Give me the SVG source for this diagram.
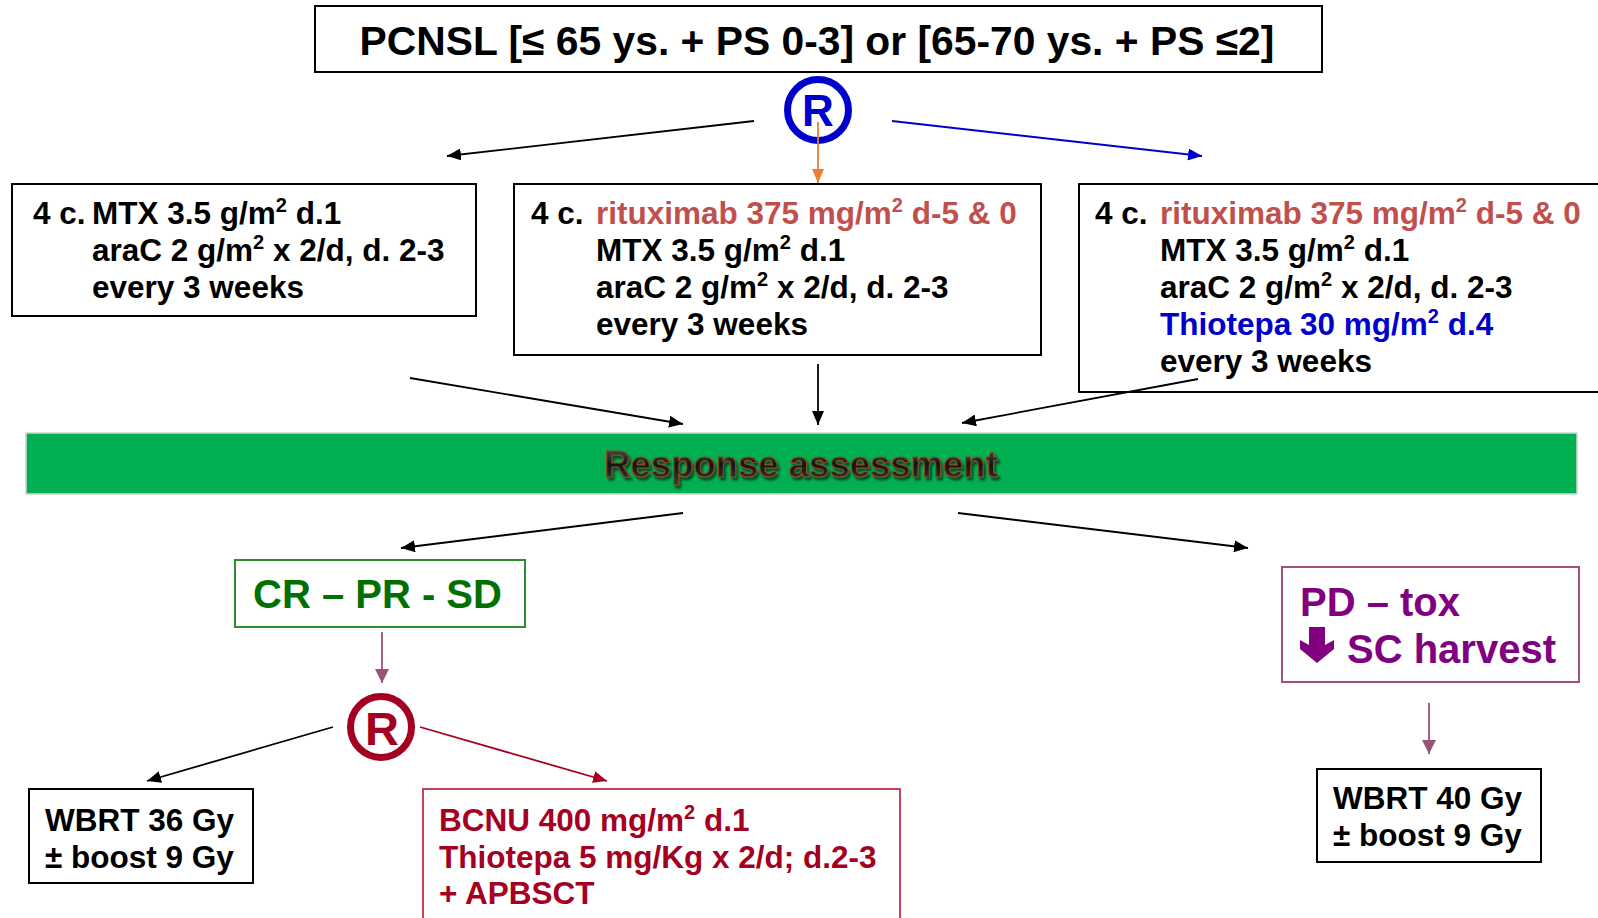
<svg xmlns="http://www.w3.org/2000/svg" width="1598" height="918" viewBox="0 0 1598 918">
<style>
.t{font-family:"Liberation Sans",Arial,sans-serif;font-weight:bold;font-size:31.5px;fill:#000;white-space:pre}
.big{font-size:40px}
.sup{font-size:20px}
.box{fill:#fff;stroke:#000;stroke-width:2}
.red{fill:#C0504D}
.blue{fill:#0000CC}
.dred{fill:#A50021}
.green{fill:#007000}
.purple{fill:#800080}
.c{stroke-width:1.8;fill:none}
.resp{font-family:"Liberation Sans",Arial,sans-serif;font-weight:bold;font-size:36.5px;fill:url(#rg);stroke:#8B4A20;stroke-width:1.2;filter:url(#sh)}
</style>
<defs>
<linearGradient id="rg" x1="0" y1="0" x2="0" y2="1"><stop offset="0" stop-color="#5a5a5a"/><stop offset="0.5" stop-color="#151515"/><stop offset="1" stop-color="#3a3a3a"/></linearGradient>
<filter id="sh" x="-10%" y="-30%" width="120%" height="160%"><feDropShadow dx="2" dy="3" stdDeviation="1.2" flood-color="#000" flood-opacity="0.55"/></filter>
<marker id="aK" markerUnits="userSpaceOnUse" markerWidth="15" markerHeight="12" refX="14" refY="6" orient="auto"><path d="M0,0 L14,6 L0,12 z" fill="#000"/></marker>
<marker id="aB" markerUnits="userSpaceOnUse" markerWidth="15" markerHeight="12" refX="14" refY="6" orient="auto"><path d="M0,0 L14,6 L0,12 z" fill="#0000CC"/></marker>
<marker id="aO" markerUnits="userSpaceOnUse" markerWidth="15" markerHeight="12" refX="14" refY="6" orient="auto"><path d="M0,0 L14,6 L0,12 z" fill="#ED7D31"/></marker>
<marker id="aM" markerUnits="userSpaceOnUse" markerWidth="15" markerHeight="14" refX="14" refY="7" orient="auto"><path d="M0,0 L14,7 L0,14 z" fill="#9B5278"/></marker>
<marker id="aR" markerUnits="userSpaceOnUse" markerWidth="15" markerHeight="12" refX="14" refY="6" orient="auto"><path d="M0,0 L14,6 L0,12 z" fill="#A50021"/></marker>
</defs>
<rect width="1598" height="918" fill="#fff"/>

<g id="title">
<rect class="box" x="315" y="6" width="1007" height="66"/>
<text class="t" x="817" y="55" text-anchor="middle" style="font-size:40.8px">PCNSL [≤ 65 ys. + PS 0-3] or [65-70 ys. + PS ≤2]</text>
</g>

<g id="rand1">
<circle cx="818" cy="110" r="30.5" fill="none" stroke="#0000CC" stroke-width="7"/>
<text class="t blue" x="818" y="126" text-anchor="middle" style="font-size:44px">R</text>
</g>

<g id="arm-a">
<rect class="box" x="12" y="184" width="464" height="132"/>
<text class="t" x="33" y="224">4 c.<tspan x="92">MTX 3.5 g/m</tspan><tspan class="sup" dy="-12">2</tspan><tspan dy="12"> d.1</tspan></text>
<text class="t" x="92" y="261">araC 2 g/m<tspan class="sup" dy="-12">2</tspan><tspan dy="12"> x 2/d, d. 2-3</tspan></text>
<text class="t" x="92" y="298">every 3 weeks</text>
</g>

<g id="arm-b">
<rect class="box" x="514" y="184" width="527" height="171"/>
<text class="t" x="531" y="224">4 c.<tspan class="red" x="596">rituximab 375 mg/m</tspan><tspan class="red sup" dy="-12">2</tspan><tspan class="red" dy="12"> d-5 &amp; 0</tspan></text>
<text class="t" x="596" y="261">MTX 3.5 g/m<tspan class="sup" dy="-12">2</tspan><tspan dy="12"> d.1</tspan></text>
<text class="t" x="596" y="298">araC 2 g/m<tspan class="sup" dy="-12">2</tspan><tspan dy="12"> x 2/d, d. 2-3</tspan></text>
<text class="t" x="596" y="335">every 3 weeks</text>
</g>

<g id="arm-c">
<rect class="box" x="1079" y="184" width="531" height="208"/>
<text class="t" x="1095" y="224">4 c.<tspan class="red" x="1160">rituximab 375 mg/m</tspan><tspan class="red sup" dy="-12">2</tspan><tspan class="red" dy="12"> d-5 &amp; 0</tspan></text>
<text class="t" x="1160" y="261">MTX 3.5 g/m<tspan class="sup" dy="-12">2</tspan><tspan dy="12"> d.1</tspan></text>
<text class="t" x="1160" y="298">araC 2 g/m<tspan class="sup" dy="-12">2</tspan><tspan dy="12"> x 2/d, d. 2-3</tspan></text>
<text class="t blue" x="1160" y="335">Thiotepa 30 mg/m<tspan class="sup" dy="-12">2</tspan><tspan dy="12"> d.4</tspan></text>
<text class="t" x="1160" y="372">every 3 weeks</text>
</g>

<g id="response">
<rect x="26" y="433" width="1551" height="61" fill="#00B050" stroke="#d4d4d4" stroke-width="1.5"/>
<text class="resp" x="801" y="477" text-anchor="middle">Response assessment</text>
</g>

<g id="cr-pr-sd">
<rect x="235" y="560" width="290" height="67" fill="#fff" stroke="#2E8B2E" stroke-width="2"/>
<text class="t big green" x="253" y="608">CR – PR - SD</text>
</g>

<g id="rand2">
<circle cx="381" cy="727" r="30.5" fill="none" stroke="#A50021" stroke-width="7"/>
<text class="t dred" x="382" y="745" text-anchor="middle" style="font-size:47px">R</text>
</g>

<g id="wbrt36">
<rect class="box" x="29" y="789" width="224" height="94"/>
<text class="t" x="45" y="831">WBRT 36 Gy</text>
<text class="t" x="45" y="868">± boost 9 Gy</text>
</g>

<g id="bcnu">
<rect x="423" y="789" width="477" height="140" fill="#fff" stroke="#C0304A" stroke-width="1.8"/>
<text class="t dred" x="439" y="831">BCNU 400 mg/m<tspan class="sup" dy="-12">2</tspan><tspan dy="12"> d.1</tspan></text>
<text class="t dred" x="439" y="868">Thiotepa 5 mg/Kg x 2/d; d.2-3</text>
<text class="t dred" x="439" y="904">+ APBSCT</text>
</g>

<g id="pd-tox">
<rect x="1282" y="567" width="297" height="115" fill="#fff" stroke="#A3507F" stroke-width="2"/>
<text class="t big purple" x="1300" y="616">PD – tox</text>
<polygon points="1309,627 1325,627 1325,645 1334,640 1334,649 1317,663 1300,649 1300,640 1309,645" fill="#800080"/>
<text class="t big purple" x="1347" y="663">SC harvest</text>
</g>

<g id="wbrt40">
<rect class="box" x="1317" y="769" width="224" height="93"/>
<text class="t" x="1333" y="809">WBRT 40 Gy</text>
<text class="t" x="1333" y="846">± boost 9 Gy</text>
</g>

<g id="connectors">
<line class="c" x1="754" y1="121" x2="447" y2="156" stroke="#000" marker-end="url(#aK)"/>
<line class="c" x1="892" y1="121" x2="1202" y2="156" stroke="#0000CC" marker-end="url(#aB)"/>
<line class="c" x1="818" y1="122" x2="818" y2="183" stroke="#ED7D31" marker-end="url(#aO)"/>
<line class="c" x1="410" y1="378" x2="683" y2="424" stroke="#000" marker-end="url(#aK)"/>
<line class="c" x1="818" y1="364" x2="818" y2="425" stroke="#000" marker-end="url(#aK)"/>
<line class="c" x1="1198" y1="379" x2="962" y2="423" stroke="#000" marker-end="url(#aK)"/>
<line class="c" x1="683" y1="513" x2="401" y2="548" stroke="#000" marker-end="url(#aK)"/>
<line class="c" x1="958" y1="513" x2="1248" y2="548" stroke="#000" marker-end="url(#aK)"/>
<line class="c" x1="382" y1="632" x2="382" y2="683" stroke="#9B5278" marker-end="url(#aM)"/>
<line class="c" x1="333" y1="727" x2="147" y2="781" stroke="#000" marker-end="url(#aK)"/>
<line class="c" x1="420" y1="727" x2="607" y2="781" stroke="#A50021" marker-end="url(#aR)"/>
<line class="c" x1="1429" y1="703" x2="1429" y2="754" stroke="#9B5278" marker-end="url(#aM)"/>
</g>
</svg>
